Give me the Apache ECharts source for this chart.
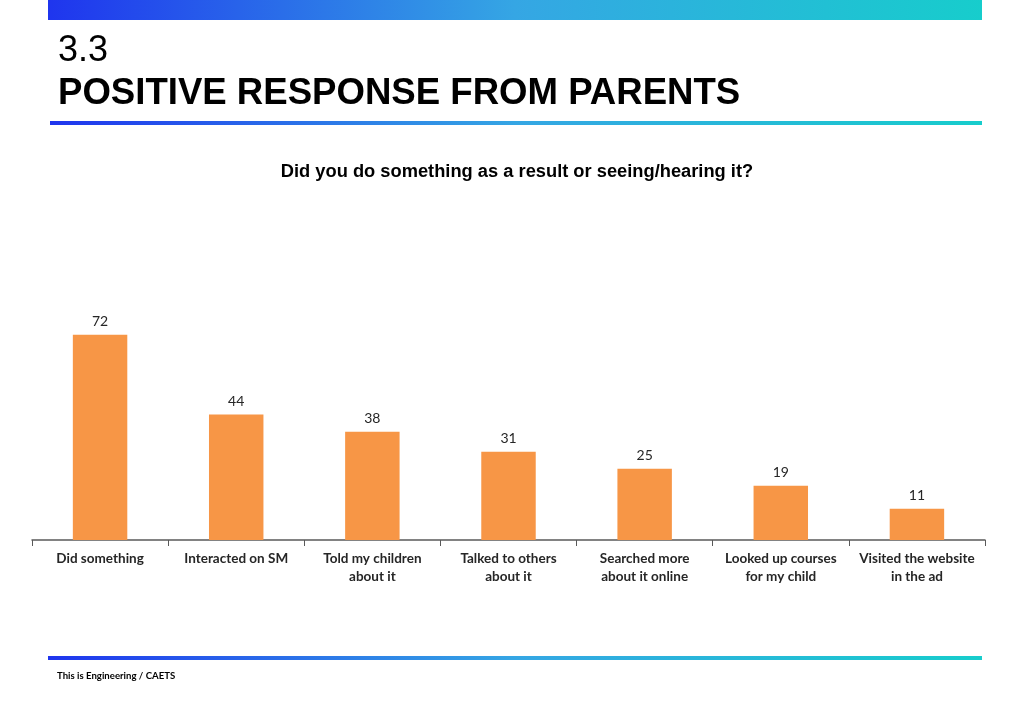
<!DOCTYPE html>
<html>
<head>
<meta charset="utf-8">
<script src="https://cdn.jsdelivr.net/npm/echarts@6/dist/echarts.min.js"></script>
<style>
  html, body { margin: 0; padding: 0; background: #fff; }
  #chart { width: 1024px; height: 708px; }
</style>
</head>
<body>
<div id="chart"></div>
<script>
var categories = [
    'Did something',
    'Interacted on SM',
    'Told my children\nabout it',
    'Talked to others\nabout it',
    'Searched more\nabout it online',
    'Looked up courses\nfor my child',
    'Visited the website\nin the ad'
];
var values = [72, 44, 38, 31, 25, 19, 11];

var chart = echarts.init(document.getElementById('chart'));

// blue to cyan strip used for banner and rules
function stripe() {
    return new echarts.graphic.LinearGradient(0, 0, 1, 0, [
        { offset: 0, color: '#1f35ee' },
        { offset: 0.5, color: '#35a6e4' },
        { offset: 1, color: '#17cdcc' }
    ]);
}

var option = {
    animation: false,
    title: {
        text: 'Did you do something as a result or seeing/hearing it?',
        left: 512,
        textAlign: 'center',
        top: 158,
        textStyle: {
            fontFamily: 'Liberation Sans',
            fontSize: 18.3,
            fontWeight: 'bold',
            color: '#000'
        }
    },
    grid: {
        left: 32,
        right: 39,
        top: 312,
        bottom: 168
    },
    xAxis: {
        type: 'category',
        data: categories,
        axisLine: { lineStyle: { color: '#595959', width: 1.5 } },
        axisTick: { show: true, length: 6, lineStyle: { color: '#595959' } },
        axisLabel: {
            interval: 0,
            margin: 10,
            fontFamily: 'Lato',
            fontWeight: 'bold',
            fontSize: 13.5,
            lineHeight: 18,
            color: '#262626'
        }
    },
    yAxis: {
        type: 'value',
        min: 0,
        max: 80,
        show: false,
        splitLine: { show: false }
    },
    series: [{
        type: 'bar',
        data: values,
        barWidth: '40%',
        itemStyle: { color: '#f79646' },
        label: {
            show: true,
            position: 'top',
            distance: 6,
            fontFamily: 'Lato',
            fontSize: 14,
            color: '#262626'
        }
    }],
    graphic: [
        { type: 'rect', shape: { x: 48, y: 0, width: 934, height: 20 }, style: { fill: stripe() } },
        {
            type: 'text', left: 58, top: 33,
            style: { text: '3.3', fontFamily: 'Liberation Sans', fontSize: 36, fill: '#000' }
        },
        {
            type: 'text', left: 58, top: 75,
            style: { text: 'POSITIVE RESPONSE FROM PARENTS', fontFamily: 'Liberation Sans', fontWeight: 'bold', fontSize: 36.6, fill: '#000' }
        },
        { type: 'rect', shape: { x: 50, y: 121, width: 932, height: 4 }, style: { fill: stripe() } },
        { type: 'rect', shape: { x: 48, y: 656, width: 934, height: 4 }, style: { fill: stripe() } },
        {
            type: 'text', left: 57, top: 671,
            style: { text: 'This is Engineering / CAETS', fontFamily: 'Lato', fontWeight: 'bold', fontSize: 9.6, fill: '#000' }
        }
    ]
};

chart.setOption(option);
</script>
</body>
</html>
